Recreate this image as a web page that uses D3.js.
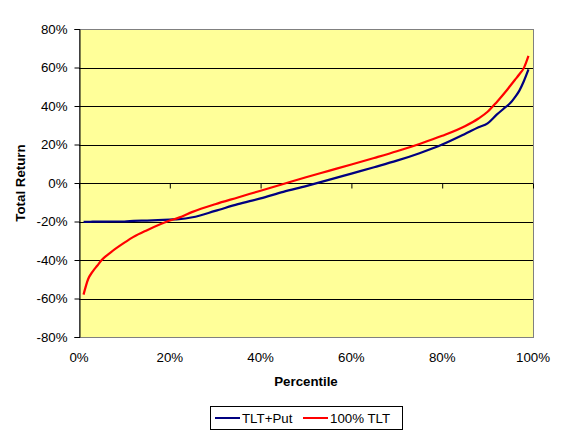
<!DOCTYPE html>
<html>
<head>
<meta charset="utf-8">
<script src="https://cdn.jsdelivr.net/npm/d3@7"></script>
<style>
  body { margin: 0; background: #fff; }
  text { font-family: "Liberation Sans", Arial, sans-serif; }
</style>
</head>
<body>
<svg id="chart" width="568" height="439"></svg>
<script>
// percentiles (x) and total returns in % (y)
const percentiles = [1, 2, 3, 4, 5, 7, 10, 12, 15, 20, 22, 25, 30, 35, 40, 45, 50, 55, 60, 65, 70, 75, 80, 85, 88, 90, 92, 94, 95, 96, 97, 98, 99];
const tltPut =      [-20.2, -20.2, -20.1, -20.1, -20.1, -20, -20, -19.7, -19.5, -19, -18.8, -17.8, -14.5, -11, -8, -4.6, -1.6, 1.6, 4.9, 8.2, 11.6, 15.5, 20, 25.5, 29, 31, 35.5, 39.5, 41.5, 44.5, 48, 53, 59];
const tlt100 =      [-58, -50, -46, -43, -40, -36, -31, -28, -24.5, -19.5, -18, -15, -11, -7.5, -4, -0.5, 3, 6.3, 9.6, 13, 16.5, 20.3, 24.5, 29.5, 33.5, 37, 42, 47.5, 50.5, 53.5, 56.5, 59.8, 66];
const series = [
  { name: "TLT+Put", values: tltPut, color: "#000080" },
  { name: "100% TLT", values: tlt100, color: "#FF0000" }
];
const xTicks = [0, 20, 40, 60, 80, 100];
const yTicks = [-80, -60, -40, -20, 0, 20, 40, 60, 80];

const svg = d3.select("#chart");
const plotLeft = 79, plotRight = 533, plotTop = 29, plotBottom = 337;

const x = d3.scaleLinear().domain([0, 100]).range([plotLeft, plotRight]);
const y = d3.scaleLinear().domain([-80, 80]).range([plotBottom, plotTop]);

// plot area
svg.append("rect")
  .attr("x", plotLeft + 0.5).attr("y", plotTop + 0.5)
  .attr("width", plotRight - plotLeft).attr("height", plotBottom - plotTop)
  .attr("fill", "#FFFF99")
  .attr("stroke", "#808080").attr("stroke-width", 1);

// gridlines
svg.append("g")
  .selectAll("line")
  .data(yTicks.filter(d => d > -80 && d < 80))
  .enter().append("line")
  .attr("x1", plotLeft).attr("x2", plotRight)
  .attr("y1", d => Math.round(y(d)) + 0.5).attr("y2", d => Math.round(y(d)) + 0.5)
  .attr("stroke", "#000").attr("stroke-width", 1);

// y axis
const yAxis = svg.append("g")
  .attr("transform", `translate(${plotLeft + 0.5},0)`)
  .call(d3.axisLeft(y).tickValues(yTicks).tickSize(5).tickPadding(7).tickFormat(d => d + "%"));
yAxis.select(".domain").attr("stroke", "#000");
yAxis.selectAll("line").attr("stroke", "#000");
yAxis.selectAll("text").attr("font-size", 13.3).attr("fill", "#000")
  .attr("font-family", "Liberation Sans, Arial, sans-serif");

// x axis ticks on the zero line
const xAxis = svg.append("g")
  .attr("transform", `translate(0,${Math.round(y(0)) + 0.5})`)
  .call(d3.axisBottom(x).tickValues(xTicks).tickSize(5).tickFormat(""));
xAxis.select(".domain").remove();
xAxis.selectAll("line").attr("stroke", "#000");

// x tick labels at the bottom
svg.append("g")
  .selectAll("text")
  .data(xTicks)
  .enter().append("text")
  .attr("x", d => x(d)).attr("y", 362)
  .attr("text-anchor", "middle")
  .attr("font-size", 13.3)
  .text(d => d + "%");

// lines
const line = d3.line()
  .x((d, i) => x(percentiles[i]))
  .y(d => y(d))
  .curve(d3.curveMonotoneX);

svg.append("g")
  .selectAll("path")
  .data(series)
  .enter().append("path")
  .attr("d", d => line(d.values))
  .attr("fill", "none")
  .attr("stroke", d => d.color)
  .attr("stroke-width", 2.2);

// axis titles
svg.append("text")
  .attr("x", 306).attr("y", 386)
  .attr("text-anchor", "middle")
  .attr("font-size", 13.3).attr("font-weight", "bold")
  .text("Percentile");

svg.append("text")
  .attr("transform", `translate(25,183) rotate(-90)`)
  .attr("text-anchor", "middle")
  .attr("font-size", 13.3).attr("font-weight", "bold")
  .text("Total Return");

// legend
const legend = svg.append("g");
legend.append("rect")
  .attr("x", 210.5).attr("y", 406.5).attr("width", 192).attr("height", 23)
  .attr("fill", "#fff").attr("stroke", "#000");
const items = legend.selectAll("g.item")
  .data(series)
  .enter().append("g")
  .attr("transform", (d, i) => `translate(${i === 0 ? 215 : 303},418)`);
items.append("line")
  .attr("x1", 0).attr("x2", 25).attr("y1", 0).attr("y2", 0)
  .attr("stroke", d => d.color).attr("stroke-width", 2);
items.append("text")
  .attr("x", 27).attr("y", 5)
  .attr("font-size", 13.3)
  .text(d => d.name);
</script>
</body>
</html>
